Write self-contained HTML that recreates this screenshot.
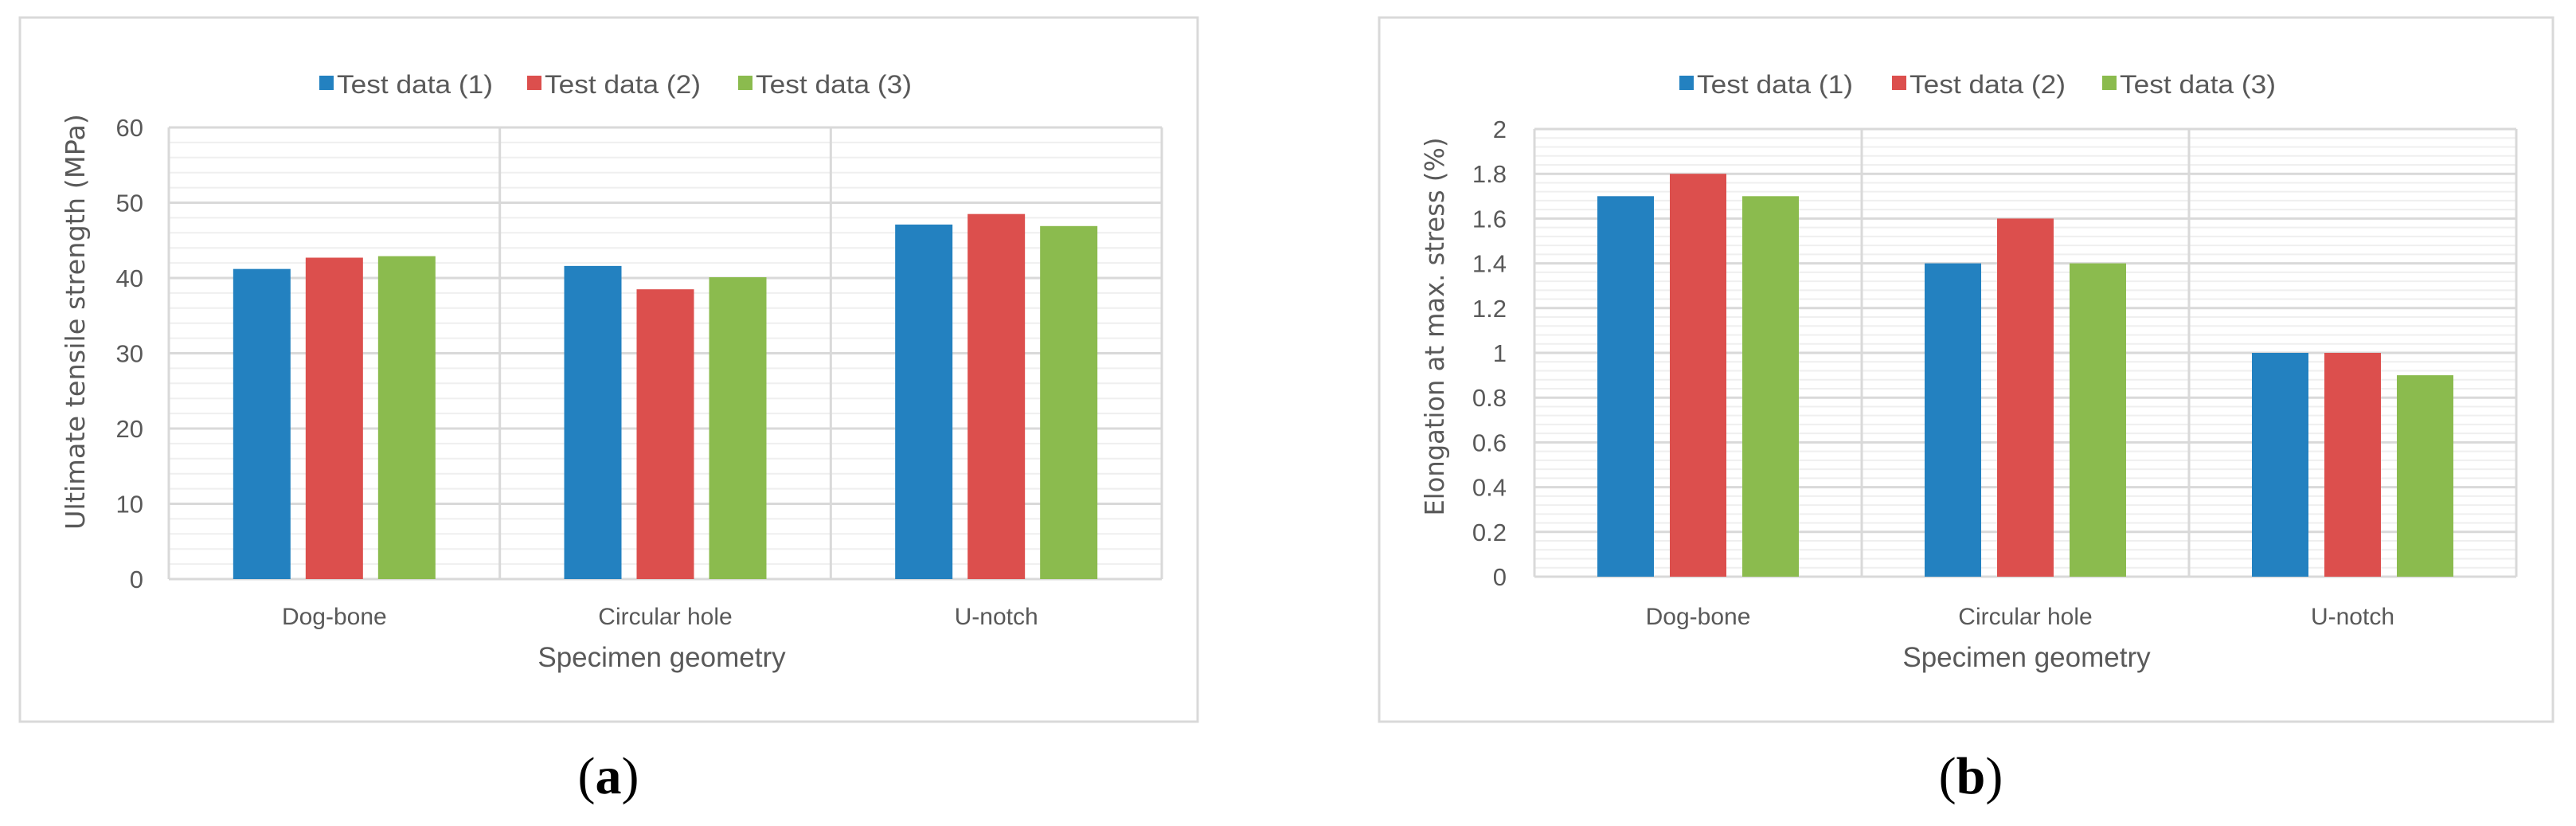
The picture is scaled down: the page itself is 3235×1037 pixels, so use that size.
<!DOCTYPE html>
<html><head><meta charset="utf-8"><style>
html,body{margin:0;padding:0;background:#fff;}
svg{display:block;}
text{fill:#595959;}
</style></head><body>
<svg id="fig" width="3235" height="1037" viewBox="0 0 3235 1037" xmlns="http://www.w3.org/2000/svg">
<rect x="0" y="0" width="3235" height="1037" fill="#fff"/>
</svg>
<script>
const categories = ["Dog-bone", "Circular hole", "U-notch"];
const seriesNames = ["Test data (1)", "Test data (2)", "Test data (3)"];
const colors = ["#2381c0", "#dc4f4d", "#8bbb4e"];
const utsSeries1 = [41.2, 41.6, 47.1];
const utsSeries2 = [42.7, 38.5, 48.5];
const utsSeries3 = [42.9, 40.1, 46.9];
const utsTicks = ["0","10","20","30","40","50","60"];
const elongSeries1 = [1.7, 1.4, 1.0];
const elongSeries2 = [1.8, 1.6, 1.0];
const elongSeries3 = [1.7, 1.4, 0.9];
const elongTicks = ["0","0.2","0.4","0.6","0.8","1","1.2","1.4","1.6","1.8","2"];

const NS = "http://www.w3.org/2000/svg";
const svg = document.getElementById("fig");
const SANS = '"Liberation Sans", sans-serif';
function mk(tag, attrs, parent){
  const e = document.createElementNS(NS, tag);
  for (const k in attrs) e.setAttribute(k, attrs[k]);
  (parent||svg).appendChild(e);
  return e;
}
function txt(attrs, parent, family){
  const t = mk("text", attrs, parent);
  t.style.fontFamily = family || SANS;
  return t;
}

function drawChart(cfg){
  const g = mk("g", {});
  
  
  const fr = mk("rect", {x:cfg.fx, y:22, width:cfg.fw, height:884, fill:"#fff", stroke:"#d9d9d9", "stroke-width":3}, g);
  
  
  const L = cfg.pl, R = cfg.pr, T = cfg.pt, B = cfg.pb;
  const yMax = cfg.max;
  const y = v => B - (v / yMax) * (B - T);
  const bandW = (R - L) / categories.length;
  const xc = i => L + bandW * (i + 0.5);
  const nMinor = (cfg.ticks.length - 1) * 5;
  for (let k = 1; k < nMinor; k++){
    if (k % 5 === 0) continue;
    const yy = B - k * (B - T) / nMinor;
    const ln = mk("line", {x1:L, x2:R, y1:yy, y2:yy, stroke:"#efefef", "stroke-width":2}, g);
    
    
  }
  cfg.ticks.forEach((t, i) => {
    const v = parseFloat(t);
    const yy = y(v);
    const ln = mk("line", {x1:L, x2:R, y1:yy, y2:yy, stroke:"#d9d9d9", "stroke-width":3}, g);
    
    
    const tx = txt({x:cfg.tickX, y:yy + 11, "text-anchor":"end", "font-size":31}, g);
    tx.textContent = t;
    
    
  });
  for (let i = 0; i <= categories.length; i++){
    const xx = L + bandW * i;
    const ln = mk("line", {x1:xx, x2:xx, y1:T, y2:B, stroke:"#d9d9d9", "stroke-width":3}, g);
    
    
  }
  const bw = cfg.barW, step = cfg.barStep;
  cfg.series.forEach((s, si) => {
    s.forEach((v, ci) => {
      const x0 = xc(ci) + (si - 1) * step - bw / 2;
      const r = mk("rect", {x:x0, y:y(v), width:bw, height:B - y(v), fill:colors[si]}, g);
      
      
    });
  });
  categories.forEach((c, ci) => {
    const tx = txt({x:xc(ci), y:784, "text-anchor":"middle", "font-size":30}, g);
    tx.textContent = c;
    
    
  });
  const xt = txt({x:cfg.xTitleX, y:837, "text-anchor":"middle", "font-size":35}, g);
  xt.textContent = "Specimen geometry";
  
  
  const yt = txt({x:0, y:0, "text-anchor":"middle", "font-size":cfg.yTitleSize, textLength:cfg.yTitleLen, lengthAdjust:"spacingAndGlyphs", transform:"translate(" + cfg.yTitleX + "," + cfg.yTitleY + ") rotate(-90)"}, g, '"DejaVu Sans", sans-serif');
  yt.textContent = cfg.yTitle;
  
  
  seriesNames.forEach((n, si) => {
    const lx = cfg.legX[si];
    const sq = mk("rect", {x:lx, y:95, width:18, height:18, fill:colors[si]}, g);
    
    
    const tx = txt({x:lx + 22, y:117, "font-size":32, textLength:196, lengthAdjust:"spacingAndGlyphs"}, g);
    tx.textContent = n;
    
    
  });
  const pl = txt({x:cfg.panelX, y:996, "text-anchor":"middle", "font-size":66}, g, '"Liberation Serif", serif');
  
  
  pl.style.fill = '#000';
  const a = document.createElementNS(NS, "tspan"); a.textContent = "(";
  const b = document.createElementNS(NS, "tspan"); b.textContent = cfg.panel; b.setAttribute("font-weight","bold");
  const c = document.createElementNS(NS, "tspan"); c.textContent = ")";
  [a,b,c].forEach(t => { t.style.fill = '#000'; pl.appendChild(t); });
}

drawChart({name:"chart-a-uts", fx:25, fw:1479, pl:212, pr:1459, pt:160, pb:727, max:60,
  ticks:utsTicks, tickX:180, barW:72, barStep:91,
  series:[utsSeries1, utsSeries2, utsSeries3],
  yTitle:"Ultimate tensile strength (MPa)", yTitleX:106, yTitleY:404, yTitleSize:33, yTitleLen:522,
  xTitleX:831, legX:[401, 662, 927], panel:"a", panelX:764});
drawChart({name:"chart-b-elongation", fx:1732, fw:1474, pl:1927, pr:3160, pt:162, pb:724, max:2,
  ticks:elongTicks, tickX:1892, barW:71, barStep:91,
  series:[elongSeries1, elongSeries2, elongSeries3],
  yTitle:"Elongation at max. stress (%)", yTitleX:1813, yTitleY:410, yTitleSize:33, yTitleLen:475,
  xTitleX:2545, legX:[2109, 2376, 2640], panel:"b", panelX:2475});
</script>
</body></html>
